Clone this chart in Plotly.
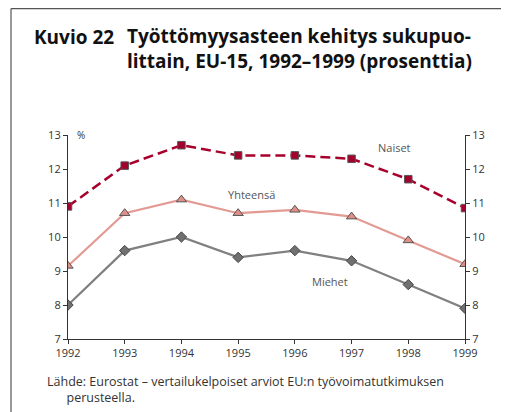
import plotly.graph_objects as go

W, H = 509, 412
# the page puts the figure 8px in from the window corner, so pixel
# positions below are the reference's minus 8
OFF = 8
L, R, T, B = 68 - OFF, 465 - OFF, 135 - OFF, 339 - OFF

years = [1992, 1993, 1994, 1995, 1996, 1997, 1998, 1999]
naiset = [10.9, 12.1, 12.7, 12.4, 12.4, 12.3, 11.7, 10.85]
yhteensa = [9.15, 10.7, 11.1, 10.7, 10.8, 10.6, 9.9, 9.2]
miehet = [8.0, 9.6, 10.0, 9.4, 9.6, 9.3, 8.6, 7.9]
y_ticks = [7, 8, 9, 10, 11, 12, 13]

FONT = "Open Sans"
TXT = "#333333"


def px(x):
    return (x - OFF - L) / (R - L)


def py(y):
    return (B - (y - OFF)) / (B - T)


fig = go.Figure()

fig.add_trace(go.Scatter(
    x=years, y=naiset, mode="lines+markers", name="Naiset",
    line=dict(color="#a8002d", width=2.5, dash="10px,5px"),
    marker=dict(symbol="square", size=7.5, color="#a3002b",
                line=dict(color="#555555", width=1)),
))
fig.add_trace(go.Scatter(
    x=years, y=yhteensa, mode="lines+markers", name="Yhteensä",
    line=dict(color="#e39a93", width=2.2),
    marker=dict(symbol="triangle-up", size=9, color="#e08f88",
                line=dict(color="#555555", width=1)),
))
fig.add_trace(go.Scatter(
    x=years, y=miehet, mode="lines+markers", name="Miehet",
    line=dict(color="#808080", width=2.2),
    marker=dict(symbol="diamond", size=8, color="#707070",
                line=dict(color="#444444", width=1)),
))
# invisible trace so the right axis is drawn
fig.add_trace(go.Scatter(x=years, y=miehet, yaxis="y2", mode="lines",
                         line=dict(width=0), hoverinfo="skip", showlegend=False))

axis_common = dict(range=[7, 13], tickvals=y_ticks, ticks="outside", ticklen=4,
                   showline=True, linecolor="#333333", linewidth=1.2,
                   tickcolor="#333333", showgrid=False, zeroline=False,
                   tickfont=dict(family=FONT, size=11, color=TXT))

fig.update_layout(
    width=W, height=H,
    margin=dict(l=L, r=W - R, t=T, b=H - B),
    paper_bgcolor="white", plot_bgcolor="white",
    showlegend=False,
    xaxis=dict(range=[1992, 1999], tickvals=years, ticks="outside", ticklen=4,
               showline=True, linecolor="#333333", linewidth=1.2,
               tickcolor="#333333", showgrid=False, zeroline=False,
               tickfont=dict(family=FONT, size=11, color=TXT)),
    yaxis=axis_common,
    yaxis2=dict(axis_common, overlaying="y", side="right"),
)

# series labels
for txt, x, y in [("Naiset", 1997.75, 12.62), ("Yhteensä", 1995.24, 11.24),
                  ("Miehet", 1996.62, 8.68)]:
    fig.add_annotation(x=x, y=y, text=txt, showarrow=False,
                       font=dict(family=FONT, size=11, color="#555555"))

fig.add_annotation(x=1992.23, y=13, text="%", showarrow=False,
                   font=dict(family=FONT, size=10, color=TXT))

# title
title_font = dict(family=FONT, size=19, color="#111111")
fig.add_annotation(xref="paper", yref="paper", x=px(32), y=py(37),
                   xanchor="left", yanchor="middle", showarrow=False,
                   text="<b>Kuvio 22</b>", font=title_font)
fig.add_annotation(xref="paper", yref="paper", x=px(125), y=py(48.5),
                   xanchor="left", yanchor="middle", showarrow=False, align="left",
                   text="<b>Työttömyysasteen kehitys sukupuo-<br>littain, EU-15, 1992–1999 (prosenttia)</b>",
                   font=title_font)

# source note (second line indented)
note_font = dict(family=FONT, size=12.5, color=TXT)
fig.add_annotation(xref="paper", yref="paper", x=px(45), y=py(389.5),
                   xanchor="left", yanchor="middle", showarrow=False, align="left",
                   text="Lähde: Eurostat – vertailukelpoiset arviot EU:n työvoimatutkimuksen"
                        "<br>" + "&nbsp;" * 6 + "perusteella.",
                   font=note_font)

# frame lines (top one sits on the figure's upper edge)
frame = dict(color="#555555", width=1.2)
fig.add_shape(type="line", xref="paper", yref="paper",
              x0=px(11), x1=px(11), y0=py(OFF + 0.6), y1=py(H + OFF), line=frame)
fig.add_shape(type="line", xref="paper", yref="paper",
              x0=px(11), x1=px(W + OFF), y0=py(OFF + 0.6), y1=py(OFF + 0.6), line=frame)

fig.write_html("out.html")
